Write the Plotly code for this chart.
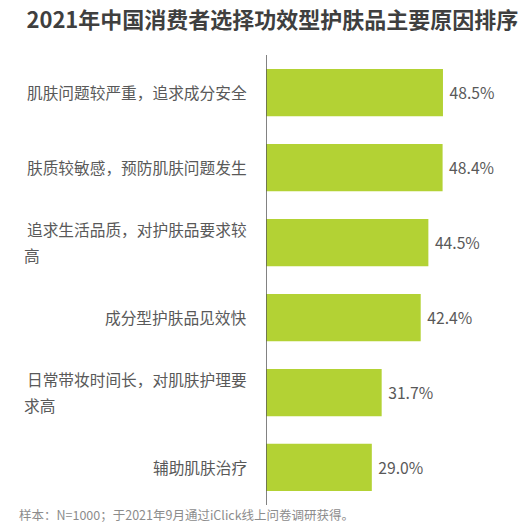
import plotly.graph_objs as go

reasons = [
    "肌肤问题较严重，追求成分安全",
    "肤质较敏感，预防肌肤问题发生",
    "追求生活品质，对护肤品要求较<br>高",
    "成分型护肤品见效快",
    "日常带妆时间长，对肌肤护理要<br>求高",
    "辅助肌肤治疗",
]
shares = [48.5, 48.4, 44.5, 42.4, 31.7, 29.0]
labels = [f"\u00a0{v:.1f}%" for v in shares]

FONT = "Noto Sans CJK SC, Microsoft YaHei, sans-serif"
LABEL_FONT = dict(size=15.7, color="#595959", family=FONT)

fig = go.Figure([
    go.Bar(
        x=shares,
        y=list(range(len(reasons))),
        orientation="h",
        marker=dict(color="rgb(179, 210, 52)", line=dict(width=0)),
        text=labels,
        textposition="outside",
        textfont=LABEL_FONT,
        cliponaxis=False,
        showlegend=False,
    )
])

# category labels as annotations; wrapped ones are split so the second
# line sits flush left under the first, with wider line spacing
annotations = []
for i, r in enumerate(reasons):
    lines = r.split("<br>")
    if len(lines) == 1:
        annotations.append(dict(
            x=-0.064, xref="paper", xanchor="right",
            y=i, yref="y", yanchor="middle",
            text=r, showarrow=False, font=LABEL_FONT,
        ))
    else:
        annotations.append(dict(
            x=-0.064, xref="paper", xanchor="right",
            y=i - 0.17, yref="y", yanchor="middle",
            text=lines[0], showarrow=False, font=LABEL_FONT,
        ))
        annotations.append(dict(
            x=-0.917, xref="paper", xanchor="left",
            y=i + 0.17, yref="y", yanchor="middle",
            text=lines[1], showarrow=False, font=LABEL_FONT,
        ))

annotations.append(dict(
    x=-0.936, xref="paper", xanchor="left",
    y=-0.022, yref="paper", yanchor="middle",
    text="样本：N=1000；于2021年9月通过iClick线上问卷调研获得。",
    showarrow=False,
    font=dict(size=12.5, color="#8c8c8c", family=FONT),
))

fig.update_layout(
    width=532,
    height=530,
    margin=dict(l=266, r=0, t=55, b=25),
    paper_bgcolor="white",
    plot_bgcolor="white",
    bargap=0.37,
    title=dict(
        text="<b>2021年中国消费者选择功效型护肤品主要原因排序</b>",
        x=0.512, xanchor="center", y=0.962, yanchor="middle",
        font=dict(size=22, color="#3f3f3f", family=FONT),
    ),
    xaxis=dict(range=[0, 72.9], visible=False),
    yaxis=dict(
        autorange="reversed",
        showticklabels=False,
        showgrid=False,
        zeroline=False,
        showline=False,
    ),
    shapes=[dict(
        type="line", xref="x", yref="paper",
        x0=0, x1=0, y0=0, y1=1,
        line=dict(color="#595959", width=1.5),
    )],
    annotations=annotations,
)

fig.write_html(
    "out.html",
    config={"displayModeBar": False},
    post_script="document.body.style.margin='0';",
)
